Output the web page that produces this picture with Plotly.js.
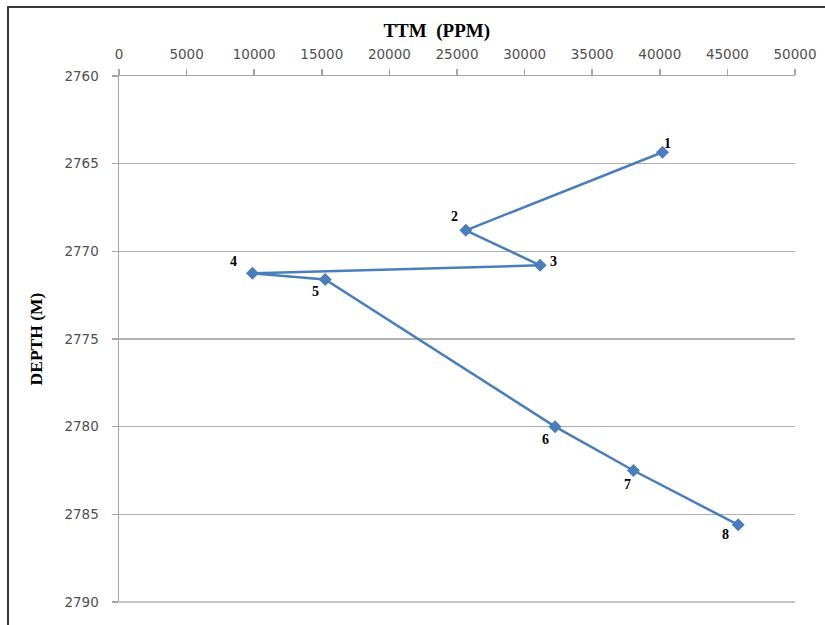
<!DOCTYPE html>
<html>
<head>
<meta charset="utf-8">
<script src="https://cdn.plot.ly/plotly-3.0.1.min.js"></script>
<style>
  html, body { margin: 0; padding: 0; background: #ffffff; }
  #chart { width: 825px; height: 625px; }
  #frame { position: absolute; left: 7px; top: 6px; width: 900px; height: 700px;
           border-left: 2px solid #3a3a3a; border-top: 2px solid #3a3a3a; pointer-events: none; }
</style>
</head>
<body>
<div id="chart"></div>
<div id="frame"></div>
<script>
// Data
const ttm = [40200, 25650, 31150, 9870, 15250, 32250, 38050, 45800];
const depth = [2764.35, 2768.8, 2770.8, 2771.25, 2771.6, 2780.0, 2782.5, 2785.6];
const pointLabels = ['1', '2', '3', '4', '5', '6', '7', '8'];
const xTicks = [0, 5000, 10000, 15000, 20000, 25000, 30000, 35000, 40000, 45000, 50000];
const yTicks = [2760, 2765, 2770, 2775, 2780, 2785, 2790];

// label offsets (pixels) — styling only
const labelShiftX = [5, -11, 13, -19, -10, -10, -6, -13];
const labelShiftY = [9, 14, 4, 12, -12, -13, -14, -10];

const trace = {
  type: 'scatter',
  mode: 'lines+markers',
  x: ttm,
  y: depth,
  line: { color: '#4a7ebb', width: 2.5 },
  marker: { symbol: 'diamond', size: 10, color: '#4a7ebb' },
  hoverinfo: 'x+y'
};

const annotations = pointLabels.map((t, i) => ({
  x: ttm[i], y: depth[i], xref: 'x', yref: 'y',
  text: t, showarrow: false,
  xshift: labelShiftX[i], yshift: labelShiftY[i],
  font: { family: 'Liberation Serif, Times New Roman, serif', size: 14, color: '#000000', weight: 'bold' }
}));

const tickFont = { family: 'DejaVu Sans, sans-serif', size: 13.5, color: '#505050' };

const layout = {
  width: 825, height: 625,
  margin: { l: 119, r: 29.5, t: 76, b: 23, pad: 0 },
  paper_bgcolor: '#ffffff',
  plot_bgcolor: '#ffffff',
  showlegend: false,
  title: {
    text: 'TTM  (PPM)',
    xref: 'paper', x: 0.47, xanchor: 'center',
    yref: 'container', y: 0.952, yanchor: 'middle',
    font: { family: 'Liberation Serif, Times New Roman, serif', size: 19, color: '#000000', weight: 'bold' }
  },
  xaxis: {
    side: 'top',
    range: [0, 50000],
    tickvals: xTicks,
    ticktext: xTicks.map(String),
    showgrid: false,
    zeroline: false,
    showline: true, linecolor: '#a6a6a6', linewidth: 1.5,
    ticks: 'outside', ticklen: 6, tickcolor: '#a6a6a6', tickwidth: 1.5,
    ticklabelstandoff: 4,
    tickfont: tickFont
  },
  yaxis: {
    range: [2790, 2760],
    tickvals: yTicks,
    ticktext: yTicks.map(String),
    showgrid: true, gridcolor: '#b0b0b0', gridwidth: 1.5,
    zeroline: false,
    showline: true, linecolor: '#a6a6a6', linewidth: 1.5,
    ticks: 'outside', ticklen: 6, tickcolor: '#a6a6a6', tickwidth: 1.5,
    ticklabelstandoff: 10,
    tickfont: tickFont,
    title: { text: 'DEPTH (M)', standoff: 17,
             font: { family: 'Liberation Serif, Times New Roman, serif', size: 17.5, color: '#000000', weight: 'bold' } }
  },
  shapes: [
    { type: 'line', xref: 'paper', yref: 'paper', x0: 0, x1: 1, y0: 0, y1: 0,
      line: { color: '#b0b0b0', width: 1.5 } }
  ],
  annotations: annotations
};

Plotly.newPlot('chart', [trace], layout, { displayModeBar: false, staticPlot: true });
</script>
</body>
</html>
